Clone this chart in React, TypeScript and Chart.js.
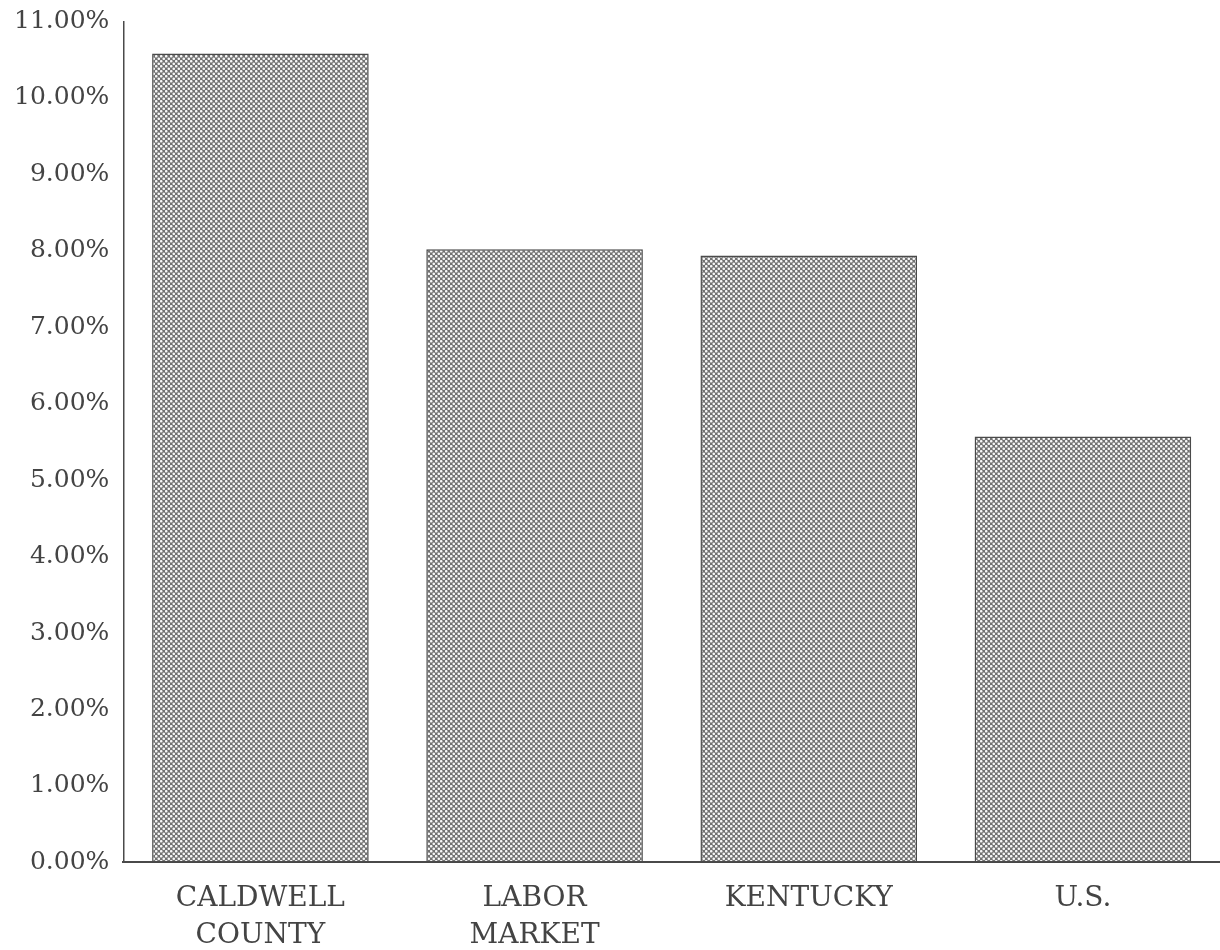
import React, { useEffect, useRef } from "react";
import { Chart, registerables } from "chart.js";

Chart.register(...registerables);

const categories: string[][] = [["CALDWELL", "COUNTY"], ["LABOR", "MARKET"], ["KENTUCKY"], ["U.S."]];
const rates: number[] = [10.58, 8.02, 7.94, 5.57];
const yMin = 0;
const yMax = 11;
const yStep = 1;

function makePattern(): CanvasPattern | string {
  const tile = document.createElement("canvas");
  tile.width = 5;
  tile.height = 5;
  const c = tile.getContext("2d");
  if (!c) return "#8a8a8a";
  c.fillStyle = "#727272";
  c.fillRect(0, 0, 5, 5);
  c.fillStyle = "#f8f8f8";
  const dots = [
    [1.25, 1.25],
    [3.75, 3.75],
  ];
  for (const [x, y] of dots) {
    c.beginPath();
    c.arc(x, y, 1.3, 0, Math.PI * 2);
    c.fill();
  }
  const p = c.createPattern(tile, "repeat");
  return p || "#8a8a8a";
}

export default function App() {
  const ref = useRef<HTMLCanvasElement | null>(null);
  useEffect(() => {
    if (!ref.current) return;
    const pattern = makePattern();
    const chart = new Chart(ref.current, {
      type: "bar",
      data: {
        labels: categories,
        datasets: [
          {
            data: rates,
            backgroundColor: pattern as any,
            borderColor: "#4a4a4a",
            borderWidth: 1.5,
            borderSkipped: false,
            categoryPercentage: 1,
            barPercentage: 0.79,
          },
        ],
      },
      options: {
        animation: false,
        responsive: false,
        maintainAspectRatio: false,
        layout: { padding: { top: -8, left: 0, right: -6, bottom: -17 } },
        plugins: { legend: { display: false }, tooltip: { enabled: false } },
        scales: {
          x: {
            grid: { display: false, drawTicks: false },
            border: { display: true, color: "#4a4a4a", width: 2 },
            ticks: {
              color: "#444",
              padding: 17,
              maxRotation: 0,
              autoSkip: false,
              font: { family: "'DejaVu Serif', serif", size: 28, lineHeight: 1.35 },
            },
          },
          y: {
            min: yMin,
            max: yMax,
            grid: { display: false, drawTicks: false },
            border: { display: true, color: "#4a4a4a", width: 1.5 },
            ticks: {
              stepSize: yStep,
              color: "#444",
              padding: 14,
              font: { family: "'DejaVu Serif', serif", size: 25, lineHeight: 1 },
              callback: (v: any) => Number(v).toFixed(2) + "%",
            },
          },
        },
      },
    });
    return () => chart.destroy();
  }, []);
  return (
    <div style={{ position: "fixed", left: 0, top: 0, width: 1220, height: 950, background: "#fff", overflow: "hidden" }}>
      <canvas
        ref={ref}
        width={1220}
        height={960}
        style={{ position: "absolute", left: 0, top: -5, width: 1220, height: 960, display: "block" }}
      />
    </div>
  );
}
